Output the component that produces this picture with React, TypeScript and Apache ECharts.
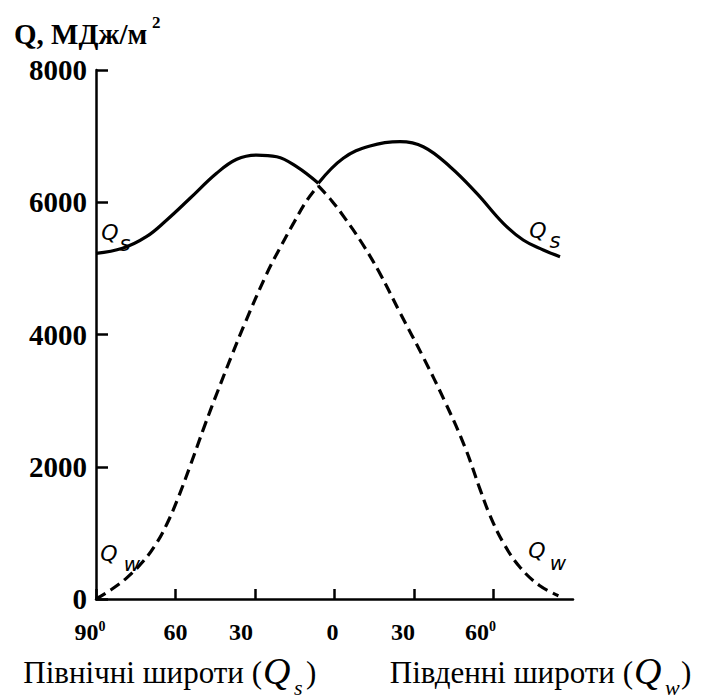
import React, { useEffect, useRef } from 'react';
import * as echarts from 'echarts';

// x axis: latitude position, negative = northern latitudes (left), positive = southern (right)
const xTicks = [-90, -60, -30, 0, 30, 60, 90];
const xTickLabels = ['90', '60', '30', '0', '30', '60', ''];
const xTickDegree = [true, false, false, false, false, true, false];
const yTicks = [0, 2000, 4000, 6000, 8000];

// Qs (solid) – two arcs meeting in a cusp
const qsNorth = [
  [-90, 5228], [-80, 5304], [-71, 5479], [-63.3, 5732], [-54.5, 6060], [-44.5, 6438],
  [-36.9, 6650], [-29.4, 6714], [-21.8, 6689], [-14.3, 6538], [-6.1, 6287],
];
const qsSouth = [
  [-6.1, 6287], [3.3, 6665], [13.4, 6851], [24.7, 6916], [33.5, 6840], [43.6, 6538],
  [53.7, 6135], [63.7, 5682], [71.2, 5429], [78.8, 5278], [85.1, 5177],
];
// Qw (dashed)
const qwNorth = [
  [-90, 0], [-84.7, 130], [-78.4, 320], [-72.2, 570], [-67.1, 850], [-63.3, 1130],
  [-59.5, 1480], [-54.4, 2020], [-49.2, 2600], [-44, 3150], [-38.8, 3680], [-33.7, 4180],
  [-25.8, 4900], [-20.7, 5300], [-15.5, 5680], [-10.4, 6030], [-6.2, 6250],
];
const qwSouth = [
  [-6.2, 6250], [-1, 6020], [3.9, 5760], [10.4, 5380], [16.9, 4940], [24.6, 4340],
  [33.7, 3640], [41.5, 3000], [49.2, 2300], [55, 1650], [58.7, 1260], [63.7, 850],
  [70, 480], [77.5, 200], [84.5, 50],
];

const yTitle = 'Q, МДж/м';
const yTitleSup = '2';
const northCaption = 'Північні широти (';
const southCaption = 'Південні широти (';

const SERIF = '"Liberation Serif", "Times New Roman", serif';
const HAND = '"DejaVu Sans", sans-serif';

export default function App() {
  const ref = useRef<HTMLDivElement>(null);

  useEffect(() => {
    if (!ref.current) return;
    const chart = echarts.init(ref.current, undefined, { renderer: 'svg' });

    const nudge: Record<number, number> = { 0: 12, 1: 0, 2: 28, 3: 4, 4: 22, 5: 26, 6: 0 };
    const rich: Record<string, any> = {
      m: { fontSize: 24, fontWeight: 'bold', fontFamily: SERIF, color: '#000', lineHeight: 26 },
      sup: { fontSize: 14, fontWeight: 'bold', fontFamily: SERIF, color: '#000', verticalAlign: 'top', lineHeight: 26 },
    };
    Object.values(nudge).forEach((n) => {
      rich['p' + n] = { width: n, fontSize: 2, lineHeight: 26 };
    });

    const lineBase = { type: 'line', showSymbol: false, symbol: 'none', smooth: 0.4, z: 3 };
    const solid = { color: '#000', width: 3.2, type: 'solid' };
    const dashed = { color: '#000', width: 3.2, type: [11, 6], cap: 'butt' };

    const txt = (
      text: string,
      x: number,
      y: number,
      size: number,
      opts: { family?: string; weight?: string; italic?: boolean; align?: string } = {},
    ) => ({
      type: 'text',
      x,
      y,
      silent: true,
      style: {
        text,
        fill: '#000',
        fontSize: size,
        fontFamily: opts.family || SERIF,
        fontWeight: opts.weight || 'normal',
        fontStyle: opts.italic ? 'italic' : 'normal',
        align: opts.align || 'left',
        verticalAlign: 'middle',
      },
    });

    chart.setOption({
      animation: false,
      backgroundColor: '#fff',
      grid: { left: 96, right: 130, top: 70, bottom: 99, containLabel: false, outerBoundsMode: 'none' },
      xAxis: {
        type: 'value',
        min: -90,
        max: 90,
        interval: 30,
        splitLine: { show: false },
        axisLine: { show: true, onZero: false, lineStyle: { color: '#000', width: 2.5 } },
        axisTick: { show: true, inside: true, length: 10, lineStyle: { color: '#000', width: 2.5 } },
        axisLabel: {
          margin: 20,
          showMaxLabel: false,
          formatter: (v: number) => {
            const i = xTicks.indexOf(Math.round(v));
            if (i < 0 || !xTickLabels[i]) return '';
            let s = '{m|' + xTickLabels[i] + '}';
            if (xTickDegree[i]) s += '{sup|0}';
            if (nudge[i]) s += '{p' + nudge[i] + '| }';
            return s;
          },
          rich,
        },
      },
      yAxis: {
        type: 'value',
        min: 0,
        max: 8000,
        interval: 2000,
        splitLine: { show: false },
        axisLine: { show: true, onZero: false, lineStyle: { color: '#000', width: 2.5 } },
        axisTick: { show: true, inside: true, length: 12, lineStyle: { color: '#000', width: 2.5 } },
        axisLabel: {
          margin: 9,
          color: '#000',
          fontSize: 29,
          fontWeight: 'bold',
          fontFamily: SERIF,
          formatter: (v: number) => (yTicks.indexOf(v) >= 0 ? String(v) : ''),
        },
      },
      series: [
        { ...lineBase, name: 'Qs north', data: qsNorth, lineStyle: solid },
        { ...lineBase, name: 'Qs south', data: qsSouth, lineStyle: solid },
        { ...lineBase, name: 'Qw north', data: qwNorth, lineStyle: dashed },
        { ...lineBase, name: 'Qw south', data: qwSouth, lineStyle: dashed },
      ],
      graphic: [
        txt(yTitle, 14, 34, 29, { weight: 'bold' }),
        txt(yTitleSup, 152, 22, 17, { weight: 'bold' }),
        // captions under the axis
        txt(northCaption, 262, 672, 31, { align: 'right' }),
        txt('Q', 263, 671, 38, { italic: true }),
        txt('s', 294, 687, 22, { italic: true }),
        txt(')', 306, 672, 31),
        txt(southCaption, 633, 672, 31, { align: 'right' }),
        txt('Q', 634, 671, 38, { italic: true }),
        txt('w', 665, 687, 22, { italic: true }),
        txt(')', 681, 672, 31),
        // curve annotations
        txt('Q', 110, 232.5, 22, { family: HAND, italic: true, align: 'center' }),
        txt('s', 125, 244, 21, { family: HAND, italic: true, align: 'center' }),
        txt('Q', 538, 230, 22, { family: HAND, italic: true, align: 'center' }),
        txt('s', 555, 241, 21, { family: HAND, italic: true, align: 'center' }),
        txt('Q', 109, 553, 22, { family: HAND, italic: true, align: 'center' }),
        txt('w', 132, 564, 20, { family: HAND, italic: true, align: 'center' }),
        txt('Q', 537, 550.5, 22, { family: HAND, italic: true, align: 'center' }),
        txt('w', 558, 562.5, 20, { family: HAND, italic: true, align: 'center' }),
      ],
    });

    return () => chart.dispose();
  }, []);

  return (
    <div
      ref={ref}
      style={{ position: 'fixed', left: 0, top: 0, width: 703, height: 698, background: '#fff' }}
    />
  );
}
